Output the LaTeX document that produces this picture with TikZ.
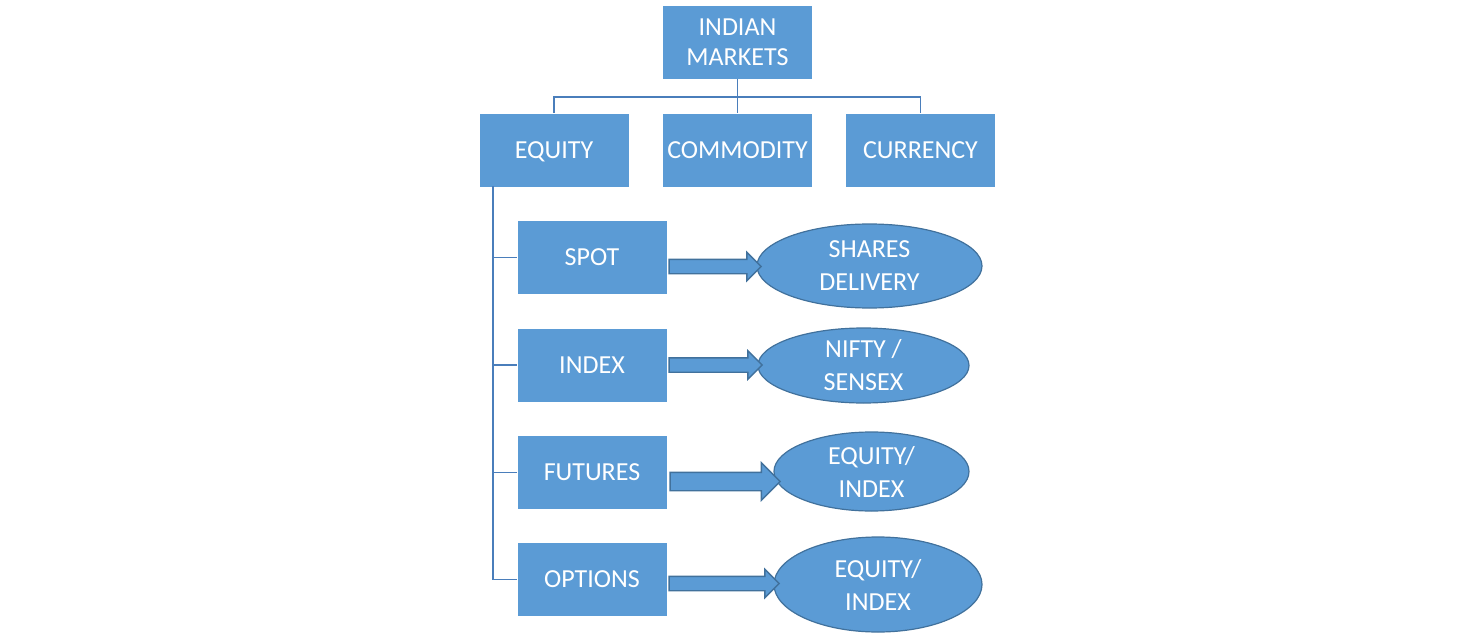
\documentclass[tikz,border=0pt]{standalone}
\usepackage{fontspec}
\setmainfont{Carlito}
\usetikzlibrary{shapes.geometric,shapes.arrows}
\definecolor{boxblue}{HTML}{5B9BD5}
\definecolor{edgeblue}{HTML}{41719C}
\definecolor{lineblue}{HTML}{4A7EBB}
\begin{document}
\begin{tikzpicture}
      [
      x=1pt,y=-1pt,
      box/.style={rectangle,fill=boxblue,text=white,inner sep=0pt,align=center,minimum width=149pt,minimum height=73pt,font=\fontsize{26}{30}\selectfont},
      oval/.style={ellipse,fill=boxblue,draw=edgeblue,line width=1.2pt,text=white,inner xsep=0pt,inner ysep=-10pt,align=center,font=\fontsize{26}{33}\selectfont},
      fatarrow/.style={single arrow,fill=boxblue,draw=edgeblue,line width=1.4pt,inner sep=6.5pt,minimum width=27pt,single arrow head extend=7pt},
      link/.style={draw=lineblue,line width=1.8pt}
      ]
      \useasboundingbox (0,0) rectangle (1476,634);
      \node (markets) at (737.5,42.5) [box] {INDIAN\\MARKETS};
      \node (equity) at (554,150) [box,text depth=0pt] {EQUITY};
      \node (commodity) at (737.5,150) [box] {COMMODITY};
      \node (currency) at (920.5,150) [box] {CURRENCY};
      \coordinate (bus) at (737.5,97);
      \draw [link] (markets.south) -- (bus);
      \draw [link] (bus) -| (equity.north);
      \draw [link] (bus) -| (currency.north);
      \draw [link] (bus) -- (commodity.north);

      \node (spot) at (592,257.5) [box] {SPOT};
      \node (index) at (592,365) [box] {INDEX};
      \node (futures) at (592,472.5) [box] {FUTURES};
      \node (options) at (592,579.5) [box] {OPTIONS};
      \coordinate (trunk) at (493,186);
      \draw [link] (trunk) |- (spot.west);
      \draw [link] (trunk) |- (index.west);
      \draw [link] (trunk) |- (futures.west);
      \draw [link] (trunk) |- (options.west);

      \node (shares) at (869.5,266) [oval,minimum width=225pt,minimum height=84pt] {SHARES\\DELIVERY};
      \node (nifty) at (863.5,365.5) [oval,minimum width=211pt,minimum height=75pt] {NIFTY /\\SENSEX};
      \node (fut) at (871.5,471.5) [oval,minimum width=195pt,minimum height=79pt] {EQUITY/\\INDEX};
      \node (opt) at (878,584.5) [oval,minimum width=208pt,minimum height=95pt] {EQUITY/\\INDEX};

      \node (a1) at (711.5,266.5) [fatarrow,minimum height=92pt] {};
      \node (a2) at (712,365) [fatarrow,minimum height=93pt] {};
      \node (a3) at (720.5,481.5) [fatarrow,minimum height=110pt,inner sep=8.5pt,minimum width=36pt,single arrow head extend=9.5pt] {};
      \node (a4) at (720.5,583.5) [fatarrow,minimum height=110pt] {};
    \end{tikzpicture}
\end{document}
